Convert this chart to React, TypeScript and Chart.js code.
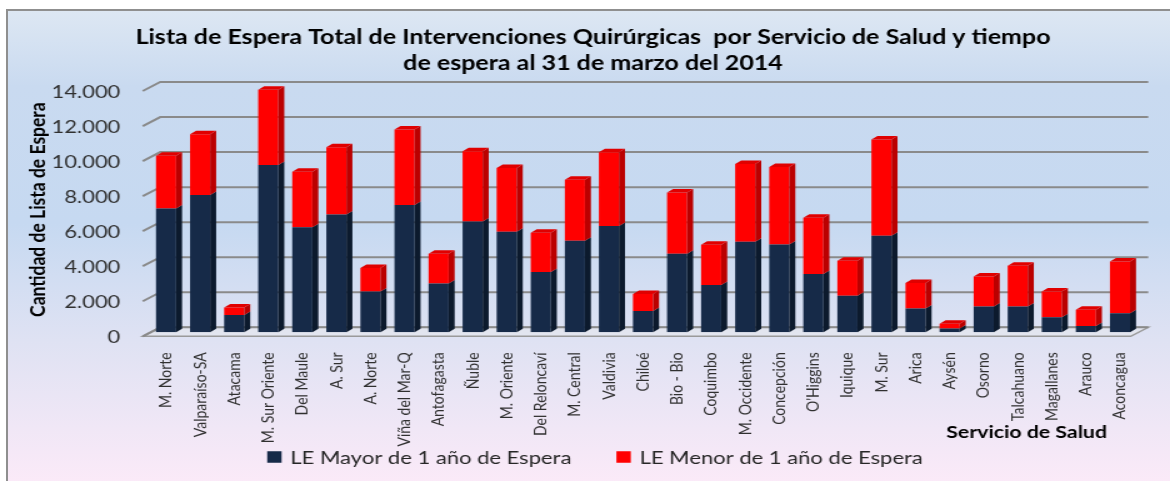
import React, { useEffect, useRef } from 'react';
import { Chart, registerables } from 'chart.js';

Chart.register(...registerables);

const categories = [
  'M. Norte', 'Valparaíso-SA', 'Atacama', 'M. Sur Oriente', 'Del Maule', 'A. Sur', 'A. Norte',
  'Viña del Mar-Q', 'Antofagasta', 'Ñuble', 'M. Oriente', 'Del Reloncaví', 'M. Central', 'Valdivia',
  'Chiloé', 'Bio - Bio', 'Coquimbo', 'M. Occidente', 'Concepción', "O'Higgins", 'Iquique', 'M. Sur',
  'Arica', 'Aysén', 'Osorno', 'Talcahuano', 'Magallanes', 'Arauco', 'Aconcagua',
];

const mayorValues = [
  7060, 7840, 990, 9545, 6000, 6730, 2330,
  7270, 2790, 6330, 5740, 3440, 5220, 6060,
  1220, 4490, 2700, 5165, 5010, 3330, 2080, 5510,
  1360, 210, 1470, 1470, 860, 360, 1090,
];

const menorValues = [
  3020, 3470, 420, 4305, 3160, 3830, 1340,
  4300, 1690, 4000, 3630, 2240, 3480, 4210,
  960, 3490, 2290, 4435, 4420, 3210, 2010, 5490,
  1450, 280, 1720, 2330, 1470, 920, 2950,
];

const seriesLabels = ['LE Mayor de 1 año de Espera', 'LE Menor de 1 año de Espera'];
const yTickValues = [0, 2000, 4000, 6000, 8000, 10000, 12000, 14000];
const yTickLabels = ['0', '2.000', '4.000', '6.000', '8.000', '10.000', '12.000', '14.000'];
const titleLines = [
  'Lista de Espera Total de Intervenciones Quirúrgicas  por Servicio de Salud y tiempo',
  'de espera al 31 de marzo del 2014',
];
const yAxisTitle = 'Cantidad de Lista de Espera';
const xAxisTitle = 'Servicio de Salud';

const SX = 1.25;
const W = Math.round(1170 / SX);
const H = 481;
const FONT = 'Lato';

const NAVY = '#162a48';
const NAVY_SIDE = '#0c1a2d';
const RED = '#ff0000';
const RED_SIDE = '#bb0000';
const RED_TOP = '#e00000';

const FRONT = { dx: -5, dy: 4 };
const BACK = { dx: 9, dy: -5 };
const DEPTH = { dx: 4.8, dy: -3.5 };

const decorPlugin = {
  id: 'decor3d',
  beforeDatasetsDraw(chart: any) {
    const { ctx, chartArea, scales } = chart;
    const y = scales.y;
    const base = y.getPixelForValue(0);
    const L = chartArea.left;
    const R = chartArea.right;
    ctx.save();
    ctx.beginPath();
    ctx.moveTo(L + FRONT.dx, base + FRONT.dy);
    ctx.lineTo(R + FRONT.dx, base + FRONT.dy);
    ctx.lineTo(R + BACK.dx, base + BACK.dy);
    ctx.lineTo(L + BACK.dx, base + BACK.dy);
    ctx.closePath();
    ctx.fillStyle = '#e2e5ef';
    ctx.fill();
    ctx.strokeStyle = '#9a9a9a';
    ctx.lineWidth = 1.5;
    ctx.stroke();
    y.ticks.forEach((t: any) => {
      const py = y.getPixelForValue(t.value);
      ctx.beginPath();
      ctx.moveTo(L + FRONT.dx, py + FRONT.dy);
      ctx.lineTo(L + BACK.dx, py + BACK.dy);
      ctx.lineTo(R + BACK.dx, py + BACK.dy);
      ctx.strokeStyle = '#8a8a8a';
      ctx.lineWidth = 2;
      ctx.stroke();
    });
    ctx.restore();
  },
  afterDatasetsDraw(chart: any) {
    const { ctx } = chart;
    const n = chart.data.datasets.length;
    ctx.save();
    for (let di = 0; di < n; di++) {
      const meta = chart.getDatasetMeta(di);
      const ds = chart.data.datasets[di];
      meta.data.forEach((el: any) => {
        const { x, y, base, width } = el.getProps(['x', 'y', 'base', 'width'], true);
        const left = x - width / 2;
        const right = x + width / 2;
        const top = Math.min(y, base);
        const bottom = Math.max(y, base);
        ctx.beginPath();
        ctx.moveTo(right, top);
        ctx.lineTo(right + DEPTH.dx, top + DEPTH.dy);
        ctx.lineTo(right + DEPTH.dx, bottom + DEPTH.dy);
        ctx.lineTo(right, bottom);
        ctx.closePath();
        ctx.fillStyle = ds.sideColor;
        ctx.fill();
        if (di === n - 1) {
          ctx.beginPath();
          ctx.moveTo(left, top);
          ctx.lineTo(left + DEPTH.dx, top + DEPTH.dy);
          ctx.lineTo(right + DEPTH.dx, top + DEPTH.dy);
          ctx.lineTo(right, top);
          ctx.closePath();
          ctx.fillStyle = ds.topColor;
          ctx.fill();
        }
      });
    }
    ctx.restore();
  },
  afterDraw(chart: any) {
    const { ctx, chartArea } = chart;
    ctx.save();
    ctx.fillStyle = '#000';
    ctx.font = `bold 17px ${FONT}`;
    ctx.textAlign = 'right';
    ctx.textBaseline = 'middle';
    ctx.fillText(xAxisTitle, chartArea.right - 24, 433);

    ctx.font = `17.6px ${FONT}`;
    ctx.textAlign = 'left';
    const box = 11.5;
    const gap = 7;
    const itemGap = 36;
    const items = chart.data.datasets.map((d: any) => ({ text: d.label, color: d.backgroundColor }));
    const widths = items.map((it: any) => box + gap + ctx.measureText(it.text).width);
    const total = widths.reduce((a: number, b: number) => a + b, 0) + itemGap * (items.length - 1);
    let x = chart.width / 2 + 8 - total / 2;
    const cy = 457;
    items.forEach((it: any, i: number) => {
      ctx.fillStyle = it.color;
      ctx.fillRect(x, cy - box / 2, box, box);
      ctx.fillStyle = '#262626';
      ctx.fillText(it.text, x + box + gap, cy + 1);
      x += widths[i] + itemGap;
    });
    ctx.restore();
  },
};

export default function App() {
  const canvasRef = useRef<HTMLCanvasElement | null>(null);

  useEffect(() => {
    if (!canvasRef.current) return;
    Chart.defaults.font.family = FONT;
    const chart = new Chart(canvasRef.current, {
      type: 'bar',
      data: {
        labels: categories,
        datasets: [
          {
            label: seriesLabels[0],
            data: mayorValues,
            backgroundColor: NAVY,
            sideColor: NAVY_SIDE,
            topColor: NAVY_SIDE,
            borderWidth: 0,
            barPercentage: 0.59,
            categoryPercentage: 1,
          } as any,
          {
            label: seriesLabels[1],
            data: menorValues,
            backgroundColor: RED,
            sideColor: RED_SIDE,
            topColor: RED_TOP,
            borderWidth: 0,
            barPercentage: 0.59,
            categoryPercentage: 1,
          } as any,
        ],
      },
      options: {
        responsive: false,
        animation: false,
        devicePixelRatio: 1,
        layout: { padding: { left: 39.2, right: 26.4, top: 0, bottom: 18.7 } },
        plugins: {
          legend: { display: false },
          tooltip: { enabled: false },
          title: {
            display: true,
            text: titleLines,
            color: '#000',
            font: { family: FONT, size: 20, weight: 'bold', lineHeight: 1.3 },
            padding: { top: 25, bottom: 10 },
          },
        },
        scales: {
          x: {
            stacked: true,
            grid: { display: false },
            border: { display: false },
            ticks: {
              autoSkip: false,
              maxRotation: 90,
              minRotation: 90,
              padding: 12,
              color: '#303030',
              font: { family: FONT, size: 14 },
            },
            afterFit: (scale: any) => {
              scale.height = 130;
            },
          },
          y: {
            stacked: true,
            min: 0,
            max: 14000,
            grid: { display: false },
            border: { display: false },
            ticks: {
              stepSize: 2000,
              padding: 15,
              labelOffset: 5,
              color: '#303030',
              font: { family: FONT, size: 17.5 },
              callback: (v: any) => {
                const i = yTickValues.indexOf(Number(v));
                return i >= 0 ? yTickLabels[i] : '';
              },
            },
            title: {
              display: true,
              text: yAxisTitle,
              color: '#000',
              font: { family: FONT, size: 17.5, weight: 'bold', lineHeight: 1.2 },
              padding: { top: -19.3, bottom: 0 },
            },
            afterFit: (scale: any) => {
              scale.width = 80;
            },
          },
        },
      } as any,
      plugins: [decorPlugin],
    });
    return () => chart.destroy();
  }, []);

  return (
    <div style={{ position: 'fixed', left: 0, top: 0, width: 1170, height: 481, background: '#ffffff', overflow: 'hidden' }}>
      <div
        style={{
          position: 'absolute',
          left: 6,
          top: 9,
          right: -2,
          bottom: -2,
          borderLeft: '2px solid #8f8f8f',
          borderTop: '2px solid #8f8f8f',
          background: 'linear-gradient(to bottom, #dde7f3 0%, #c9daf0 16%, #c6d9f1 45%, #dfe2f3 70%, #fbeaf8 100%)',
        }}
      />
      <div style={{ position: 'absolute', left: 0, top: 0, width: W, height: H, transform: `scaleX(${SX})`, transformOrigin: '0 0' }}>
        <canvas ref={canvasRef} width={W} height={H} style={{ width: W, height: H, display: 'block' }} />
      </div>
    </div>
  );
}
